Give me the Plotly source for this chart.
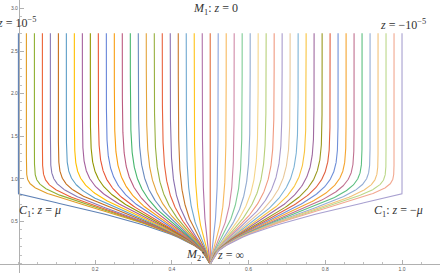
import numpy as np
import plotly.graph_objects as go

# start positions of the 49 trajectories along the top (x at y = top_y)
curve_x0 = [0.0, 0.0208, 0.0417, 0.0625, 0.0833, 0.1042, 0.125, 0.1458, 0.1667, 0.1875,
            0.2083, 0.2292, 0.25, 0.2708, 0.2917, 0.3125, 0.3333, 0.3542, 0.375, 0.3958,
            0.4167, 0.4375, 0.4583, 0.4792, 0.5, 0.5208, 0.5417, 0.5625, 0.5833, 0.6042,
            0.625, 0.6458, 0.6667, 0.6875, 0.7083, 0.7292, 0.75, 0.7708, 0.7917, 0.8125,
            0.8333, 0.8542, 0.875, 0.8958, 0.9167, 0.9375, 0.9583, 0.9792, 1.0]

curve_colors = ["#5E81B5", "#E19C24", "#8FB032", "#EB6235", "#8778B3", "#C56E1A", "#5D9EC7",
                "#FFBF00", "#A5609D", "#929600", "#E95536", "#6685D9", "#F89F13", "#BC5B80",
                "#47B66D", "#6A8BBF", "#E3A33A", "#98B040", "#E8633F", "#8A70B0", "#C8782A",
                "#6FA8D0", "#FFC31A", "#B070A8", "#E07040", "#8AA3DD", "#F7BA60", "#D08AA8",
                "#7FCC96", "#92ABD0", "#F5D58A", "#B8D07A", "#F09A80", "#A99BCC", "#E8C89A",
                "#7DB3D6", "#F8C440", "#A06AA0", "#9A9A20", "#E06040", "#7090D8", "#F5A530",
                "#C07090", "#5CBF80", "#94ACD4", "#F2C27A", "#BCD88A", "#F2A890", "#A8A0D0"]

# height where each trajectory leaves its vertical line, by steps from the centre (1..24)
knee_y = [1.15, 1.25, 1.32, 1.40, 1.46, 1.52, 1.56, 1.58, 1.58, 1.57, 1.55, 1.52,
          1.49, 1.45, 1.41, 1.36, 1.30, 1.24, 1.18, 1.14, 1.10, 1.07, 1.03, 0.82]

top_y = 2.71

# lower boundary (C1 -> M2), v = |x - 0.5| / 0.5
env_v = [0.258, 0.34, 0.67, 1.0]
env_y = [0.39, 0.458, 0.64, 0.81]

basis = np.column_stack([env_v, np.sqrt(env_v)])
env_coef = np.linalg.lstsq(basis, np.array(env_y), rcond=None)[0]


def envelope(v):
    return env_coef[0] * v + env_coef[1] * np.sqrt(v)


def trajectory(x0, knee):
    s = abs(x0 - 0.5) / 0.5
    if s == 0:
        return [0.5, 0.5], [top_y, 0.0]
    side = 1 if x0 > 0.5 else -1
    tol = 0.003
    eps = (knee - envelope(s)) / -np.log(tol / s)
    gap = np.logspace(-14, 0, 700)[::-1]
    v = s * (1 - gap)
    y = envelope(v) - eps * np.log(gap)
    keep = y <= top_y
    v = np.append(v[keep], s)
    y = np.append(y[keep], top_y)
    return list(0.5 + side * 0.5 * v), list(y)


fig = go.Figure()
for k, x0 in enumerate(curve_x0):
    steps = int(round(abs(x0 - 0.5) * 48))
    knee = knee_y[steps - 1] if steps > 0 else top_y
    xs, ys = trajectory(x0, knee)
    fig.add_trace(go.Scatter(x=xs, y=ys, mode="lines",
                             line=dict(color=curve_colors[k], width=1.1),
                             hoverinfo="skip", showlegend=False))

label_font = dict(family="Liberation Serif", size=12, color="#333333")
labels = [
    (0.515, 2.99, "center", "<i>M</i><sub>1</sub>: <i>z</i> = 0"),
    (0.052, 2.83, "right", "<i>z</i> = 10<sup>−5</sup>"),
    (0.937, 2.81, "left", "<i>z</i> = −10<sup>−5</sup>"),
    (-0.003, 0.62, "left", "<i>C</i><sub>1</sub>: <i>z</i> = <i>μ</i>"),
    (0.922, 0.62, "left", "<i>C</i><sub>1</sub>: <i>z</i> = −<i>μ</i>"),
    (0.4915, 0.10, "right", "<i>M</i><sub>2</sub>:"),
    (0.512, 0.10, "left", "<i>z</i> = ∞"),
]
for lx, ly, anchor, text in labels:
    fig.add_annotation(x=lx, y=ly, xref="x", yref="y", text=text, showarrow=False,
                       xanchor=anchor, yanchor="middle", font=label_font)

axis_style = dict(showgrid=False, zeroline=False, showline=True, linecolor="#b0b0b0",
                  linewidth=1, ticks="inside", ticklen=4, tickcolor="#b0b0b0",
                  tickfont=dict(size=5, color="#555555", family="Liberation Sans"),
                  anchor="free", automargin=False)

fig.update_layout(
    width=440, height=273,
    margin=dict(l=0, r=0, t=0, b=0),
    paper_bgcolor="white", plot_bgcolor="white",
    xaxis=dict(range=[-0.048, 1.099], position=0.033,
               tickvals=[0.2, 0.4, 0.6, 0.8, 1.0], tickformat=".1f",
               minor=dict(dtick=0.05, tick0=0, ticks="inside", ticklen=2, tickcolor="#c0c0c0"),
               **axis_style),
    yaxis=dict(range=[-0.106, 3.099], position=0.043,
               tickvals=[0.5, 1.0, 1.5, 2.0, 2.5, 3.0], tickformat=".1f",
               minor=dict(dtick=0.1, tick0=0, ticks="inside", ticklen=2, tickcolor="#c0c0c0"),
               **axis_style),
)

# the page body has a default 8px margin; drop it so the figure sits at the window corner
fig.write_html("out.html", config={"displayModeBar": False},
               post_script="document.body.style.margin='0';")
